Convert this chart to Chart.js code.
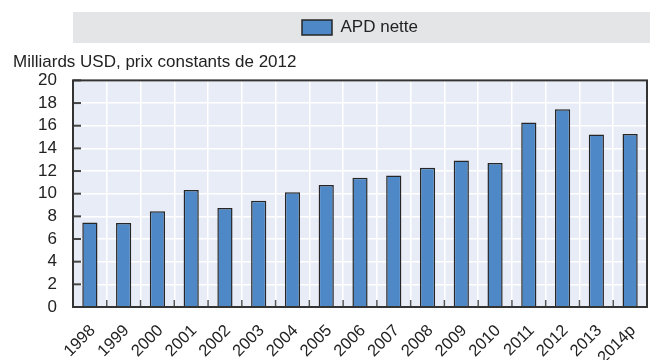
<!DOCTYPE html>
<html>
<head>
<meta charset="utf-8">
<script src="https://cdn.jsdelivr.net/npm/chart.js@4/dist/chart.umd.min.js"></script>
<style>
  html, body { margin: 0; padding: 0; background: #ffffff; }
  #wrap { width: 650px; height: 360px; }
</style>
</head>
<body>
<div id="wrap"><canvas id="c" width="650" height="360"></canvas></div>
<script>
const years = ['1998','1999','2000','2001','2002','2003','2004','2005','2006','2007','2008','2009','2010','2011','2012','2013','2014p'];
const apdNette = [7.45, 7.42, 8.45, 10.32, 8.74, 9.38, 10.12, 10.76, 11.41, 11.61, 12.29, 12.93, 12.70, 16.28, 17.45, 15.22, 15.28];
const seriesLabel = 'APD nette';
const unitTitle = 'Milliards USD, prix constants de 2012';
const yTicks = [0, 2, 4, 6, 8, 10, 12, 14, 16, 18, 20];

const FONT = "'Liberation Sans', Arial, sans-serif";

const backdrop = {
  id: 'backdrop',
  beforeDraw(chart) {
    const ctx = chart.ctx;
    const a = chart.chartArea;
    ctx.save();
    const lg = chart.legend;
    if (lg && lg.legendHitBoxes && lg.legendHitBoxes.length) {
      const hb = lg.legendHitBoxes[0];
      const cy = hb.top + hb.height / 2;
      ctx.fillStyle = '#e4e5e7';
      ctx.fillRect(a.left, cy - 15.5, chart.width - a.left, 31);
    }
    ctx.fillStyle = '#e8ecf7';
    ctx.fillRect(a.left, a.top, a.right - a.left, a.bottom - a.top);
    ctx.restore();
  },
  afterDatasetsDraw(chart) {
    const ctx = chart.ctx;
    const a = chart.chartArea;
    const x = chart.scales.x;
    const y = chart.scales.y;
    ctx.save();
    ctx.strokeStyle = '#444444';
    ctx.lineWidth = 2;
    yTicks.forEach(v => {
      const py = y.getPixelForValue(v);
      ctx.beginPath();
      ctx.moveTo(a.left, py);
      ctx.lineTo(a.left + 8, py);
      ctx.stroke();
    });
    ctx.strokeStyle = '#555555';
    ctx.lineWidth = 1.5;
    for (let i = 0; i < years.length - 1; i++) {
      const px = x.getPixelForValue(i + 0.5);
      ctx.beginPath();
      ctx.moveTo(px, a.bottom);
      ctx.lineTo(px, a.bottom - 7);
      ctx.stroke();
    }
    ctx.strokeStyle = '#333333';
    ctx.lineWidth = 2;
    ctx.strokeRect(a.left, a.top, a.right - a.left, a.bottom - a.top);
    ctx.restore();
  }
};

new Chart(document.getElementById('c'), {
  type: 'bar',
  data: {
    labels: years,
    datasets: [{
      label: seriesLabel,
      data: apdNette,
      backgroundColor: '#4e88c7',
      borderColor: '#262626',
      borderWidth: 1.5,
      barPercentage: 0.45,
      categoryPercentage: 1.0
    }]
  },
  options: {
    responsive: false,
    devicePixelRatio: 1,
    animation: false,
    layout: { padding: { left: 13, right: 3, top: 12, bottom: 0 } },
    plugins: {
      legend: {
        display: true,
        position: 'top',
        fullSize: false,
        weight: 1000,
        labels: {
          boxWidth: 30,
          boxHeight: 15,
          padding: 7,
          color: '#222222',
          font: { family: FONT, size: 17 }
        }
      },
      title: {
        display: true,
        text: unitTitle,
        align: 'start',
        position: 'top',
        weight: 500,
        color: '#222222',
        font: { family: FONT, size: 17, weight: 'normal' },
        padding: { top: 6, bottom: 8 }
      },
      tooltip: { enabled: false }
    },
    scales: {
      x: {
        offset: true,
        grid: { display: true, color: '#ffffff', lineWidth: 1.5, drawTicks: false, offset: true },
        border: { display: false },
        ticks: {
          color: '#222222',
          font: { family: FONT, size: 16.5 },
          maxRotation: 45,
          minRotation: 45,
          autoSkip: false,
          padding: 14,
          labelOffset: 3
        },
        afterFit(scale) { scale.height = 53; scale.paddingLeft = 0; scale.paddingRight = 0; }
      },
      y: {
        min: 0,
        max: 20,
        grid: { color: '#ffffff', lineWidth: 1.5, drawTicks: false },
        border: { display: false },
        ticks: {
          stepSize: 2,
          autoSkip: false,
          color: '#222222',
          font: { family: FONT, size: 17 },
          padding: 16
        },
        afterFit(scale) { scale.width = 60; scale.paddingTop = 0; scale.paddingBottom = 0; }
      }
    }
  },
  plugins: [backdrop]
});
</script>
</body>
</html>
